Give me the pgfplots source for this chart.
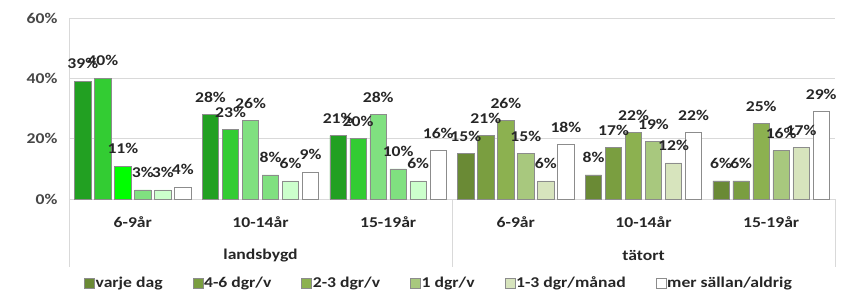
\documentclass[border=0pt]{standalone}
\usepackage{pgfplots}
\pgfplotsset{compat=1.18}
\usepackage{fontspec}
\setmainfont{Carlito}[FakeStretch=1.18]

\definecolor{la}{HTML}{22A022}
\definecolor{lb}{HTML}{33CC33}
\definecolor{lc}{HTML}{00FF00}
\definecolor{ld}{HTML}{80E080}
\definecolor{le}{HTML}{CCFFCC}
\definecolor{ta}{HTML}{6A8A35}
\definecolor{tb}{HTML}{7A9E40}
\definecolor{tc}{HTML}{8CB150}
\definecolor{td}{HTML}{A8C87E}
\definecolor{te}{HTML}{D7E4BD}
\definecolor{bordergray}{HTML}{8C8C8C}
\definecolor{gridgray}{HTML}{D9D9D9}
\definecolor{txt}{HTML}{262626}

\begin{document}
\begin{tikzpicture}
\useasboundingbox (-69bp,-93bp) rectangle (773bp,199bp);
\begin{axis}[
  at={(0,0)}, anchor=south west,
  scale only axis, width=766bp, height=181bp,
  ybar,
  bar width=0.129,
  xmin=-0.5, xmax=5.5,
  ymin=0, ymax=60,
  ytick={0,20,40,60},
  yticklabel={\pgfmathprintnumber{\tick}\%},
  /pgf/number format/assume math mode=true,
  xtick={0,1,2,3,4,5},
  xticklabels={6-9år,10-14år,15-19år,6-9år,10-14år,15-19år},
  major tick length=0pt,
  xticklabel style={anchor=center, yshift=-23bp, text=txt},
  yticklabel style={xshift=-8bp, text=txt!85!white},
  font=\fontsize{15}{18}\selectfont\bfseries,
  axis lines*=left,
  axis line style={-, draw=gridgray},
  ymajorgrids,
  grid style={draw=gridgray},
  clip=false,
  every axis plot/.append style={draw=bordergray, line width=0.6pt},
  nodes near coords={\pgfmathprintnumber{\pgfplotspointmeta}\%},
  every node near coord/.append style={anchor=south, inner sep=0pt, yshift=12bp, text=txt, font=\fontsize{15}{18}\selectfont\bfseries},
  legend columns=6,
  legend style={at={(0.4824,-0.464)}, anchor=center, draw=none, fill=none,
    font=\fontsize{15}{18}\selectfont\bfseries, text=txt,
    /tikz/every even column/.append style={column sep=29bp},
    nodes={inner sep=1bp}},
  legend image code/.code={\draw[#1, draw=bordergray, line width=0.5pt] (0bp,-5bp) rectangle (10bp,5bp);},
]
% legend entries (tätort colours)
\addlegendimage{fill=ta}\addlegendentry{varje dag}
\addlegendimage{fill=tb}\addlegendentry{4-6 dgr/v}
\addlegendimage{fill=tc}\addlegendentry{2-3 dgr/v}
\addlegendimage{fill=td}\addlegendentry{1 dgr/v}
\addlegendimage{fill=te}\addlegendentry{1-3 dgr/månad}
\addlegendimage{fill=white}\addlegendentry{mer sällan/aldrig}

% landsbygd
\addplot[fill=la, bar shift=-0.392, forget plot] coordinates {(0,39) (1,28) (2,21)};
\addplot[fill=lb, bar shift=-0.235, forget plot] coordinates {(0,40) (1,23) (2,20)};
\addplot[fill=lc, bar shift=-0.078, forget plot] coordinates {(0,11)};
\addplot[fill=ld, bar shift=-0.078, forget plot] coordinates {(1,26) (2,28)};
\addplot[fill=ld, bar shift=0.078, forget plot] coordinates {(0,3) (1,8) (2,10)};
\addplot[fill=le, bar shift=0.235, forget plot] coordinates {(0,3) (1,6) (2,6)};
\addplot[fill=white, bar shift=0.392, forget plot] coordinates {(0,4) (1,9) (2,16)};
% tätort
\addplot[fill=ta, bar shift=-0.392, forget plot] coordinates {(3,15) (4,8) (5,6)};
\addplot[fill=tb, bar shift=-0.235, forget plot] coordinates {(3,21) (4,17) (5,6)};
\addplot[fill=tc, bar shift=-0.078, forget plot] coordinates {(3,26) (4,22) (5,25)};
\addplot[fill=td, bar shift=0.078, forget plot] coordinates {(3,15) (4,19) (5,16)};
\addplot[fill=te, bar shift=0.235, forget plot] coordinates {(3,6) (4,12) (5,17)};
\addplot[fill=white, bar shift=0.392, forget plot] coordinates {(3,18) (4,22) (5,29)};

% category box lines
\draw[gridgray] (axis cs:-0.5,0) -- (axis cs:-0.5,-22.5);
\draw[gridgray] (axis cs:2.5,0) -- (axis cs:2.5,-22.5);
\draw[gridgray] (axis cs:5.5,0) -- (axis cs:5.5,-22.5);
\node[text=txt, font=\fontsize{15}{18}\selectfont\bfseries] at (axis cs:1,-18.6) {landsbygd};
\node[text=txt, font=\fontsize{15}{18}\selectfont\bfseries] at (axis cs:4,-18.6) {tätort};
\end{axis}
\end{tikzpicture}
\end{document}
